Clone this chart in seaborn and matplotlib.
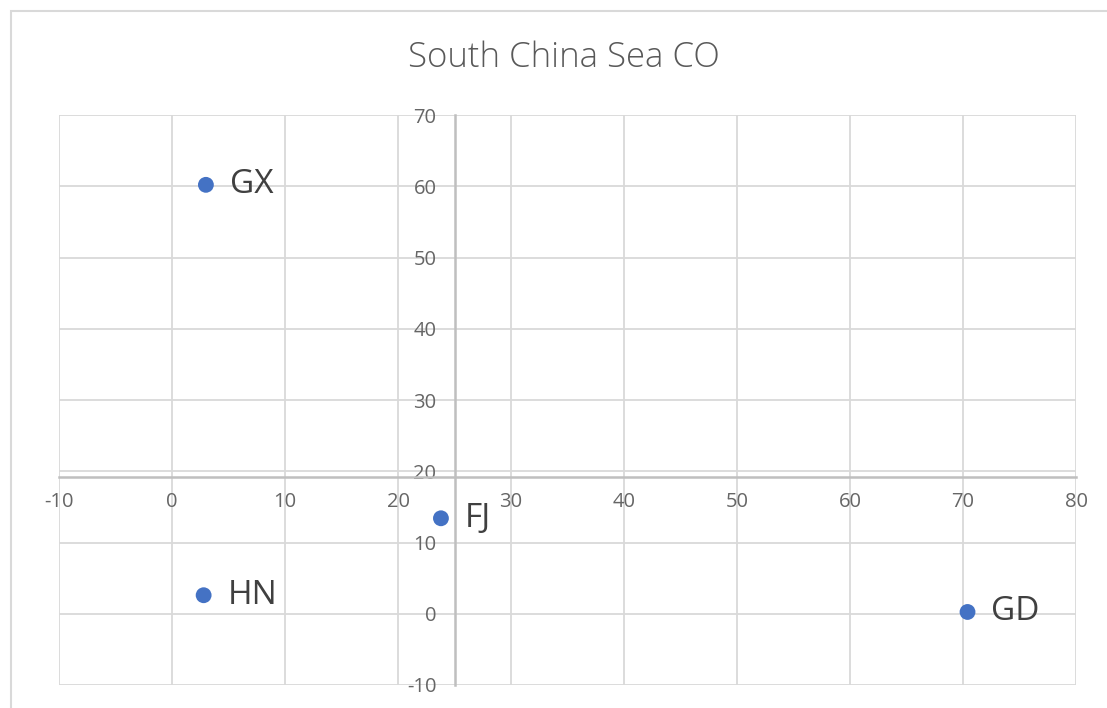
import matplotlib
matplotlib.use("Agg")
import matplotlib.pyplot as plt
from matplotlib.patches import Rectangle
import seaborn as sns
import pandas as pd

# Provinces and their coordinates
provinces = ["GX", "HN", "FJ", "GD"]
x_values = [3.0, 2.8, 23.8, 70.4]
y_values = [60.2, 2.6, 13.4, 0.25]

x_ticks = [-10, 0, 10, 20, 30, 40, 50, 60, 70, 80]
y_ticks = [-10, 0, 10, 20, 30, 40, 50, 60, 70]

# where the two axes cross each other
x_cross = 25
y_cross = 19.2

sns.set_style("white")
plt.rcParams["font.family"] = ["Open Sans", "DejaVu Sans"]

df = pd.DataFrame({"province": provinces, "x": x_values, "y": y_values})

fig = plt.figure(figsize=(11.07, 7.08), dpi=100)
ax = fig.add_axes([59 / 1107, 1 - 685 / 708, (1076 - 59) / 1107, (685 - 115) / 708])

sns.scatterplot(data=df, x="x", y="y", ax=ax, color="#4472C4", s=130,
                edgecolor="none", zorder=5, clip_on=False)

ax.set_xlim(-10, 80)
ax.set_ylim(-10, 70)
ax.set_xticks(x_ticks)
ax.set_yticks(y_ticks)
ax.set_xticklabels([str(v) for v in x_ticks])
ax.set_yticklabels([str(v) for v in y_ticks])
ax.set_xlabel("")
ax.set_ylabel("")

grid_color = "#D9D9D9"
ax.grid(True, color=grid_color, linewidth=1.3)
for gl in ax.get_xgridlines() + ax.get_ygridlines():
    gl.set_clip_on(False)
ax.set_axisbelow(True)

for side in ["top", "right"]:
    ax.spines[side].set_visible(False)
ax.spines["left"].set_position(("data", x_cross))
ax.spines["bottom"].set_position(("data", y_cross))
for side in ["left", "bottom"]:
    ax.spines[side].set_color("#BFBFBF")
    ax.spines[side].set_linewidth(1.8)
    ax.spines[side].set_zorder(3)

ax.tick_params(axis="both", length=0, labelsize=14.5, labelcolor="#666666")
ax.tick_params(axis="x", pad=10.5)
ax.tick_params(axis="y", pad=13)

for name, xv, yv in zip(provinces, x_values, y_values):
    ax.annotate(name, (xv, yv), xytext=(17, 0), textcoords="offset points",
                ha="left", va="center", fontsize=24, color="#404040", zorder=6)

fig.text(564 / 1107, 1 - 58 / 708, "South China Sea CO", ha="center", va="center",
         fontsize=25, color="#595959", fontweight="light")

# outer chart frame
fig.patches.append(Rectangle((11 / 1107, -0.05), 1.2, 1 - 11 / 708 + 0.05,
                             transform=fig.transFigure, fill=False,
                             edgecolor="#D9D9D9", linewidth=1.5))

fig.savefig("out.png", dpi=100, facecolor="white")
